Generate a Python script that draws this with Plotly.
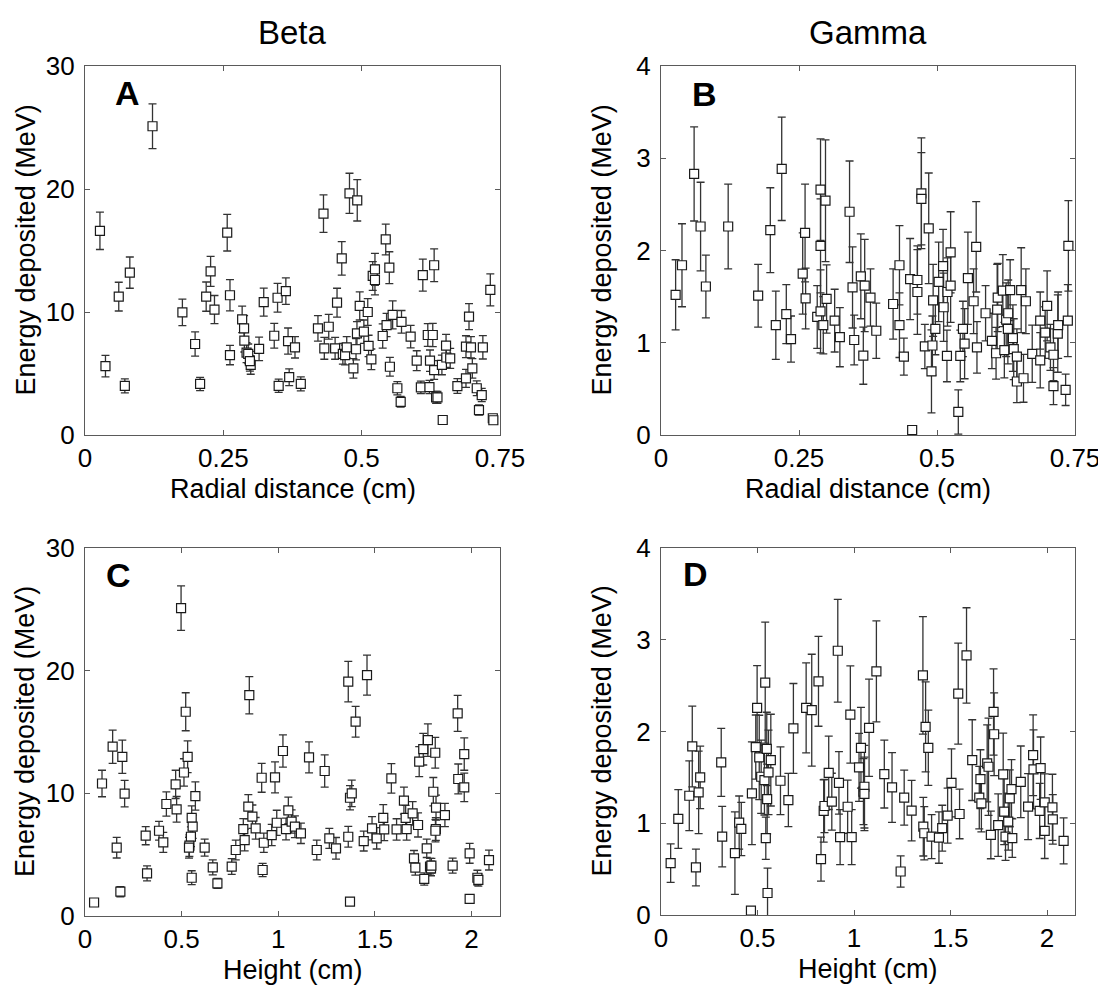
import plotly.graph_objects as go

# page is 1106x987; the HTML body adds an 8px margin, so the figure is drawn
# 8px in from the page corner; coordinates below are page pixels.
PAGE_W, PAGE_H = 1106, 987
OFF = 8
W, H = PAGE_W, PAGE_H

# ---------------- Panel A: Beta vs radial distance ----------------
a_r = [0.027, 0.037, 0.061, 0.072, 0.081, 0.122, 0.176, 0.199, 0.208, 0.219,
       0.227, 0.234, 0.257, 0.262, 0.262, 0.284, 0.2875, 0.288, 0.292, 0.295,
       0.2995, 0.298, 0.3146, 0.323, 0.342, 0.348, 0.350, 0.363, 0.367, 0.369,
       0.3795, 0.390, 0.421, 0.431, 0.4325, 0.4405, 0.452, 0.4555, 0.464, 0.466,
       0.470, 0.473, 0.478, 0.485, 0.4898, 0.492, 0.4915, 0.4965, 0.504, 0.511,
       0.5125, 0.5175, 0.520, 0.524, 0.524, 0.538, 0.5435, 0.545, 0.550, 0.551,
       0.556, 0.5645, 0.5705, 0.572, 0.5885, 0.5995, 0.607, 0.6105, 0.6195, 0.6225,
       0.6235, 0.6285, 0.631, 0.631, 0.6345, 0.637, 0.6465, 0.645, 0.6525, 0.653,
       0.660, 0.673, 0.6885, 0.6885, 0.694, 0.6975, 0.700, 0.708, 0.712, 0.717,
       0.719, 0.7325, 0.737, 0.738]
a_e = [16.6, 5.6, 11.25, 4.0, 13.2, 25.1, 9.97, 7.4, 4.15, 11.25,
       13.3, 10.2, 16.45, 11.36, 6.5, 9.4, 8.67, 7.67, 6.7, 6.6,
       5.7, 6.0, 7.0, 10.8, 8.07, 11.16, 4.0, 11.7, 7.64, 4.7,
       7.13, 4.15, 8.67, 18.0, 7.05, 8.8, 7.05, 10.76, 14.36, 6.6,
       6.5, 7.13, 19.65, 5.42, 6.97, 19.08, 8.27, 10.49, 8.4, 10.0,
       7.24, 6.15, 12.93, 13.47, 12.6, 8.05, 15.9, 8.94, 13.6, 5.55,
       9.76, 3.8, 2.7, 9.2, 8.0, 6.04, 3.87, 13.0, 8.13, 3.9,
       6.04, 8.13, 13.8, 5.28, 3.06, 3.06, 1.22, 5.7, 7.26, 6.3,
       6.23, 3.98, 4.6, 7.18, 9.62, 7.13, 5.42, 3.8, 2.03, 3.25,
       7.13, 11.8, 1.36, 1.2]
a_err = [1.52, 0.87, 1.17, 0.57, 1.27, 1.82, 1.08, 0.98, 0.54, 1.19,
         1.22, 1.14, 1.49, 1.27, 0.79, 1.08, 1.03, 0.92, 0.81, 0.8,
         0.76, 0.8, 0.95, 1.14, 1.0, 1.17, 0.54, 1.08, 1.06, 0.68,
         0.87, 0.57, 1.03, 1.52, 0.89, 1.0, 0.89, 1.17, 1.36, 0.84,
         0.8, 0.87, 1.63, 0.79, 0.87, 1.68, 0.95, 1.14, 0.95, 1.08,
         0.87, 0.84, 1.17, 1.3, 1.2, 0.98, 1.25, 0.95, 1.3, 0.76,
         1.14, 0.54, 0.43, 0.92, 0.92, 0.81, 0.51, 1.3, 0.92, 0.54,
         0.87, 0.95, 1.33, 0.76, 0.49, 0.49, 0.3, 0.8, 0.92, 0.8,
         0.81, 0.6, 0.73, 0.89, 1.06, 0.87, 0.79, 0.6, 0.41, 0.54,
         0.95, 1.3, 0.3, 0.3]

# ---------------- Panel B: Gamma vs radial distance ----------------
b_r = [0.0265, 0.038, 0.060, 0.0717, 0.0813, 0.1217, 0.176, 0.198, 0.208, 0.2187,
       0.227, 0.2355, 0.2567, 0.261, 0.262, 0.283, 0.289, 0.289, 0.289, 0.294,
       0.298, 0.300, 0.3146, 0.324, 0.3416, 0.347, 0.350, 0.362, 0.3665, 0.369,
       0.3795, 0.390, 0.4205, 0.432, 0.432, 0.440, 0.4513, 0.455, 0.4645, 0.4645,
       0.4717, 0.4717, 0.478, 0.485, 0.490, 0.4917, 0.493, 0.497, 0.503, 0.511,
       0.512, 0.518, 0.519, 0.5247, 0.5247, 0.5386, 0.5422, 0.547, 0.55, 0.556,
       0.5663, 0.571, 0.5724, 0.588, 0.5995, 0.607, 0.609, 0.61, 0.6193, 0.622,
       0.6253, 0.6284, 0.629, 0.6325, 0.6375, 0.639, 0.6447, 0.6447, 0.6525, 0.6567,
       0.661, 0.6725, 0.687, 0.687, 0.696, 0.6995, 0.7055, 0.711, 0.711, 0.7188,
       0.7195, 0.733, 0.737, 0.738]
b_e = [1.52, 1.84, 2.83, 2.26, 1.61, 2.26, 1.51, 2.22, 1.19, 2.885,
       1.31, 1.04, 1.75, 2.19, 1.48, 1.28, 2.66, 2.05, 1.34, 1.19,
       2.54, 1.475, 1.24, 1.06, 2.42, 1.6, 1.03, 1.72, 0.86, 1.62,
       1.49, 1.13, 1.42, 1.84, 1.19, 0.85, 1.69, 0.054, 1.68, 1.55,
       2.62, 2.56, 0.96, 2.24, 0.69, 0.97, 1.46, 1.15, 1.66, 1.83,
       1.385, 0.857, 1.55, 1.98, 1.62, 0.25, 0.857, 1.15, 0.99, 1.7,
       1.45, 2.04, 0.95, 1.32, 1.02, 0.886, 1.36, 1.49, 1.565, 0.92,
       1.25, 1.15, 1.32, 1.57, 1.05, 0.93, 0.85, 0.58, 1.57, 0.615,
       1.45, 0.88, 1.24, 0.81, 1.11, 1.4, 0.95, 0.87, 0.53, 1.1,
       1.19, 0.49, 1.24, 2.05]
b_err = [0.38, 0.45, 0.51, 0.48, 0.34, 0.46, 0.34, 0.46, 0.37, 0.56,
         0.32, 0.25, 0.44, 0.53, 0.33, 0.34, 0.55, 0.51, 0.45, 0.31,
         0.66, 0.37, 0.34, 0.32, 0.55, 0.44, 0.27, 0.46, 0.31, 0.5,
         0.31, 0.3, 0.38, 0.43, 0.35, 0.2, 0.44, 0.0, 0.37, 0.46,
         0.6, 0.5, 0.24, 0.6, 0.45, 0.32, 0.39, 0.28, 0.43, 0.4,
         0.37, 0.28, 0.37, 0.44, 0.4, 0.24, 0.28, 0.3, 0.38, 0.5,
         0.35, 0.49, 0.28, 0.3, 0.3, 0.28, 0.49, 0.37, 0.39, 0.3,
         0.4, 0.38, 0.36, 0.33, 0.36, 0.33, 0.3, 0.23, 0.46, 0.26,
         0.35, 0.31, 0.31, 0.3, 0.28, 0.38, 0.25, 0.28, 0.2, 0.42,
         0.36, 0.17, 0.39, 0.49]

# ---------------- Panel C: Beta vs height ----------------
c_h = [0.047, 0.088, 0.143, 0.164, 0.183, 0.193, 0.205, 0.314, 0.321, 0.383,
       0.405, 0.421, 0.469, 0.474, 0.497, 0.512, 0.521, 0.531, 0.552, 0.557,
       0.548, 0.540, 0.538, 0.552, 0.571, 0.619, 0.661, 0.685, 0.759, 0.780,
       0.819, 0.826, 0.845, 0.850, 0.866, 0.883, 0.914, 0.919, 0.925, 0.966,
       0.983, 0.992, 1.024, 1.04, 1.052, 1.069, 1.086, 1.117, 1.159, 1.199,
       1.24, 1.264, 1.2985, 1.362, 1.362, 1.371, 1.38, 1.371, 1.40, 1.442,
       1.459, 1.485, 1.509, 1.543, 1.548, 1.585, 1.612, 1.65, 1.659, 1.664,
       1.695, 1.702, 1.709, 1.723, 1.729, 1.75, 1.755, 1.768, 1.774, 1.785,
       1.79, 1.792, 1.802, 1.812, 1.816, 1.815, 1.813, 1.862, 1.902, 1.928,
       1.931, 1.962, 1.962, 1.99, 1.99, 2.03, 2.035, 2.09]
c_e = [1.1, 10.8, 13.8, 5.57, 1.98, 12.98, 9.97, 6.55, 3.48, 6.95,
       6.0, 9.13, 10.73, 8.7, 25.1, 11.7, 16.65, 12.98, 8.0, 7.28,
       6.46, 5.73, 5.57, 3.12, 9.78, 5.57, 3.97, 2.66, 4.03, 5.38,
       7.09, 6.19, 8.91, 18.0, 8.1, 7.15, 11.27, 3.75, 5.97, 6.6,
       11.3, 7.6, 13.45, 7.09, 8.61, 7.7, 7.28, 6.74, 12.93, 5.38,
       11.82, 6.33, 5.52, 19.1, 6.46, 9.64, 10.0, 1.17, 15.84, 6.11,
       19.64, 7.15, 6.33, 8.0, 7.06, 11.22, 7.06, 9.4, 8.0, 7.09,
       8.37, 4.7, 3.94, 7.42, 12.58, 13.6, 3.02, 5.52, 14.34, 4.02,
       3.88, 4.1, 10.13, 13.31, 8.83, 7.09, 6.95, 8.23, 4.1, 16.52,
       11.17, 13.2, 10.49, 5.11, 1.39, 3.12, 2.94, 4.56]
c_err = [0.3, 1.08, 1.36, 0.84, 0.41, 1.36, 1.08, 0.74, 0.61, 0.77,
         0.81, 0.99, 1.15, 1.04, 1.82, 1.12, 1.55, 1.29, 0.98, 0.95,
         0.81, 0.88, 0.85, 0.57, 1.15, 0.69, 0.61, 0.41, 0.64, 0.81,
         0.85, 0.88, 0.98, 1.52, 0.95, 0.88, 1.18, 0.54, 0.79, 0.87,
         1.26, 1.02, 1.31, 0.89, 1.08, 0.95, 0.89, 0.83, 1.27, 0.81,
         1.31, 0.81, 0.88, 1.65, 0.85, 0.99, 1.08, 0.3, 1.25, 0.81,
         1.63, 0.95, 0.87, 1.08, 0.92, 1.21, 0.87, 1.1, 1.02, 0.91,
         0.95, 0.64, 0.61, 0.98, 1.22, 1.29, 0.5, 0.75, 1.33, 0.68,
         0.6, 0.6, 1.16, 1.25, 1.02, 0.92, 0.9, 0.95, 0.61, 1.47,
         1.22, 1.32, 1.16, 0.81, 0.3, 0.61, 0.5, 0.81]

# ---------------- Panel D: Gamma vs height ----------------
d_h = [0.050, 0.0896, 0.1466, 0.162, 0.181, 0.195, 0.203, 0.312, 0.317, 0.383,
       0.405, 0.416, 0.466, 0.471, 0.498, 0.491, 0.509, 0.519, 0.536, 0.54,
       0.543, 0.548, 0.55, 0.552, 0.557, 0.569, 0.619, 0.66, 0.686, 0.752,
       0.781, 0.816, 0.829, 0.843, 0.847, 0.869, 0.885, 0.916, 0.922, 0.928,
       0.967, 0.981, 0.988, 1.026, 1.036, 1.049, 1.054, 1.054, 1.078, 1.116,
       1.157, 1.197, 1.2416, 1.26, 1.2985, 1.357, 1.359, 1.364, 1.371, 1.385,
       1.402, 1.44, 1.457, 1.485, 1.505, 1.54, 1.547, 1.583, 1.6125, 1.649,
       1.655, 1.66, 1.69, 1.697, 1.709, 1.723, 1.726, 1.747, 1.773, 1.778,
       1.785, 1.799, 1.807, 1.816, 1.82, 1.864, 1.902, 1.928, 1.93, 1.962,
       1.967, 1.988, 1.988, 2.028, 2.03, 2.086]
d_e = [0.565, 1.047, 1.3, 1.837, 0.518, 1.337, 1.5, 1.663, 0.855, 0.674,
       1.007, 0.938, 0.047, 1.326, 2.257, 1.83, 1.717, 1.507, 1.47, 2.533,
       0.837, 1.81, 1.264, 0.24, 1.554, 1.688, 1.463, 1.253, 2.033, 2.257,
       2.232, 2.547, 0.609, 1.134, 1.188, 1.55, 1.235, 2.88, 1.44, 0.848,
       1.18, 2.185, 0.848, 1.609, 1.822, 1.344, 1.398, 1.32, 2.04, 2.655,
       1.536, 1.39, 0.474, 1.279, 1.137, 2.612, 0.963, 0.891, 2.05, 1.822,
       0.855, 0.844, 0.946, 1.083, 1.44, 2.413, 1.101, 2.829, 1.688, 1.279,
       1.481, 1.217, 1.652, 1.616, 0.873, 2.213, 1.97, 0.98, 1.532, 1.126,
       0.855, 1.017, 1.272, 1.373, 0.837, 1.452, 1.181, 1.742, 1.587, 1.134,
       1.6, 0.916, 1.228, 1.174, 1.043, 0.808]
d_err = [0.21, 0.32, 0.38, 0.44, 0.2, 0.45, 0.34, 0.37, 0.33, 0.45,
         0.29, 0.29, 0.0, 0.56, 0.46, 0.35, 0.46, 0.4, 0.38, 0.66,
         0.23, 0.4, 0.38, 0.27, 0.46, 0.5, 0.37, 0.29, 0.49, 0.49,
         0.61, 0.49, 0.24, 0.34, 0.29, 0.4, 0.31, 0.56, 0.34, 0.3,
         0.29, 0.53, 0.3, 0.37, 0.44, 0.36, 0.45, 0.4, 0.53, 0.55,
         0.37, 0.38, 0.17, 0.3, 0.33, 0.64, 0.32, 0.29, 0.49, 0.41,
         0.24, 0.28, 0.25, 0.3, 0.37, 0.55, 0.27, 0.52, 0.44, 0.34,
         0.32, 0.31, 0.42, 0.53, 0.26, 0.47, 0.45, 0.34, 0.45, 0.36,
         0.26, 0.31, 0.31, 0.32, 0.21, 0.39, 0.36, 0.44, 0.43, 0.3,
         0.34, 0.3, 0.31, 0.36, 0.27, 0.25]

col_titles = ["Beta", "Gamma"]
panel_letters = ["A", "B", "C", "D"]
x_titles = ["Radial distance (cm)", "Radial distance (cm)", "Height (cm)", "Height (cm)"]
y_title = "Energy deposited (MeV)"
radial_ticks = [0, 0.25, 0.5, 0.75]
radial_ticktext = ["0", "0.25", "0.5", "0.75"]
height_ticks = [0, 0.5, 1, 1.5, 2]
height_ticktext = ["0", "0.5", "1", "1.5", "2"]
beta_ticks = [0, 10, 20, 30]
gamma_ticks = [0, 1, 2, 3, 4]

FONT = "Arial, Liberation Sans, Helvetica, sans-serif"
FRAME = "#5a5a5a"


def px(x):
    return (x - OFF) / W


def py(y):
    return 1 - (y - OFF) / H


# page-pixel boxes of plot areas (left, right, top, bottom)
boxes = [(85, 500, 66, 435), (661, 1075, 66, 435),
         (85, 500, 548, 916), (661, 1075, 548, 915)]

fig = go.Figure()

datasets = [(a_r, a_e, a_err), (b_r, b_e, b_err), (c_h, c_e, c_err), (d_h, d_e, d_err)]
for i, (xs, ys, es) in enumerate(datasets):
    ax = "" if i == 0 else str(i + 1)
    fig.add_trace(go.Scatter(
        x=xs, y=ys, mode="markers",
        xaxis="x" + ax, yaxis="y" + ax,
        marker=dict(symbol="square", size=9, color="white",
                    line=dict(color="#1a1a1a", width=1.2)),
        error_y=dict(type="data", array=es, visible=True,
                     color="#333333", thickness=1.3, width=4),
        cliponaxis=False, showlegend=False, hoverinfo="x+y",
    ))

xranges = [[0, 0.75], [0, 0.75], [0, 2.147], [0, 2.145]]
yranges = [[0, 30], [0, 4], [0, 30], [0, 4]]
xtv = [radial_ticks, radial_ticks, height_ticks, height_ticks]
xtt = [radial_ticktext, radial_ticktext, height_ticktext, height_ticktext]
ytv = [beta_ticks, gamma_ticks, beta_ticks, gamma_ticks]

layout = dict(
    width=W, height=H, autosize=False,
    margin=dict(l=0, r=0, t=0, b=0, pad=0, autoexpand=False),
    paper_bgcolor="white", plot_bgcolor="white",
    font=dict(family=FONT, color="black"),
    showlegend=False,
)
axis_common = dict(showline=True, linecolor=FRAME, linewidth=1.2, mirror="ticks",
                   ticks="inside", ticklen=5, tickcolor=FRAME, tickwidth=1,
                   showgrid=False, zeroline=False, automargin=False,
                   tickfont=dict(family=FONT, size=26, color="black"))
for i, (l, r, t, b) in enumerate(boxes):
    n = "" if i == 0 else str(i + 1)
    layout["xaxis" + n] = dict(axis_common, domain=[px(l), px(r)], range=xranges[i],
                               tickvals=xtv[i], ticktext=xtt[i],
                               anchor="y" + n)
    layout["yaxis" + n] = dict(axis_common, domain=[py(b), py(t)], range=yranges[i],
                               tickvals=ytv[i], anchor="x" + n,
                               ticklabelstandoff=4)
fig.update_layout(**layout)

ann = []
# column titles
for txt, cx in zip(col_titles, [292, 868]):
    ann.append(dict(text=txt, x=px(cx), y=py(32), xref="paper", yref="paper",
                    showarrow=False, xanchor="center", yanchor="middle",
                    font=dict(family=FONT, size=33, color="black")))
# panel letters
for txt, (cx, cy) in zip(panel_letters, [(127, 93), (704, 94), (118, 575), (695, 574)]):
    ann.append(dict(text="<b>" + txt + "</b>", x=px(cx), y=py(cy), xref="paper", yref="paper",
                    showarrow=False, xanchor="center", yanchor="middle",
                    font=dict(family=FONT, size=34, color="black")))
# axis titles
for i, (l, r, t, b) in enumerate(boxes):
    cx = (l + r) / 2
    ann.append(dict(text=x_titles[i], x=px(cx), y=py(b + 54), xref="paper", yref="paper",
                    showarrow=False, xanchor="center", yanchor="middle",
                    font=dict(family=FONT, size=27, color="black")))
    ann.append(dict(text=y_title, x=px(l - 60), y=py((t + b) / 2), xref="paper", yref="paper",
                    showarrow=False, xanchor="center", yanchor="middle", textangle=-90,
                    font=dict(family=FONT, size=27, color="black")))
fig.update_layout(annotations=ann)

fig.write_html("out.html")
